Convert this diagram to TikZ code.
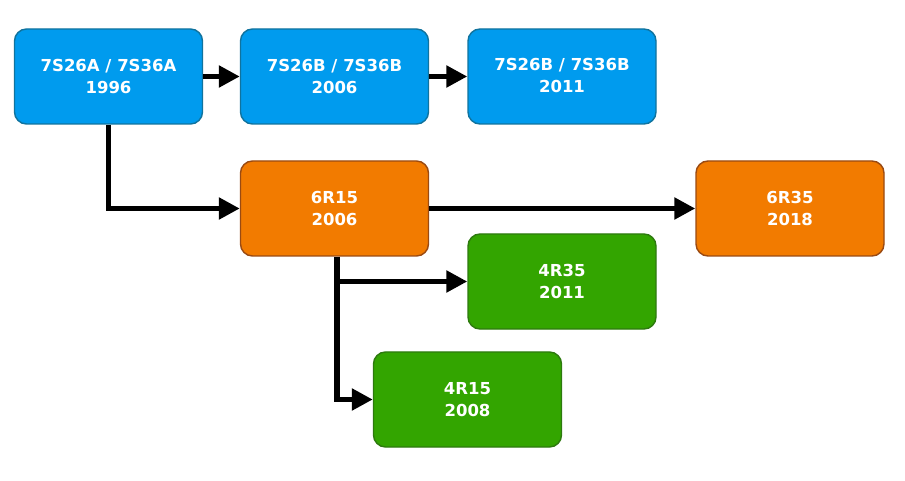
\documentclass[tikz,border=0pt]{standalone}
\usepackage{fontspec}
\setmainfont{DejaVu Sans}
\usetikzlibrary{arrows.meta}

\definecolor{boxblue}{HTML}{009BEE}
\definecolor{lineblue}{HTML}{10739E}
\definecolor{boxorange}{HTML}{F27B00}
\definecolor{lineorange}{HTML}{9A4A12}
\definecolor{boxgreen}{HTML}{33A500}
\definecolor{linegreen}{HTML}{2D7A0E}

\tikzset{
  gearbox/.style={draw,line width=1.4bp,rounded corners=12bp,minimum width=188bp,minimum height=95bp,
    text=white,align=center,font=\fontsize{16.5bp}{22bp}\selectfont\bfseries,inner sep=0pt},
  bluebox/.style={gearbox,fill=boxblue,draw=lineblue},
  orangebox/.style={gearbox,fill=boxorange,draw=lineorange},
  greenbox/.style={gearbox,fill=boxgreen,draw=linegreen},
  link/.style={line width=5.5bp,-{Triangle[length=21bp,width=21bp]}}
}

\begin{document}
\begin{tikzpicture}[x=1bp,y=-1bp]

\useasboundingbox (0,0) rectangle (905,481);

\node [bluebox] (sa) at (108.5,76.5) {7S26A / 7S36A\\1996};

\node [bluebox] (sb) at (334.5,76.5) {7S26B / 7S36B\\2006};

\node [bluebox] (sc) at (562,76.5) {\raisebox{2bp}{7S26B / 7S36B}\\\raisebox{2bp}{2011}};

\node [orangebox] (rsa) at (334.5,208.5) {6R15\\2006};

\node [orangebox] (rsb) at (790,208.5) {6R35\\2018};

\node [greenbox] (rfb) at (562,281.5) {4R35\\2011};

\node [greenbox] (rfa) at (467.5,399.5) {4R15\\2008};

\coordinate (fork) at (337,281.5);

\draw [link] (sa) -- (sb);

\draw [link] (sb) -- (sc);

\draw [link] (sa.south) |- (rsa.west);

\draw [link] (rsa) -- (rsb);

\draw [link] (rsa.south -| fork) |- (rfa.west);

\draw [link] (fork) -- (rfb.west);

\end{tikzpicture}
\end{document}
